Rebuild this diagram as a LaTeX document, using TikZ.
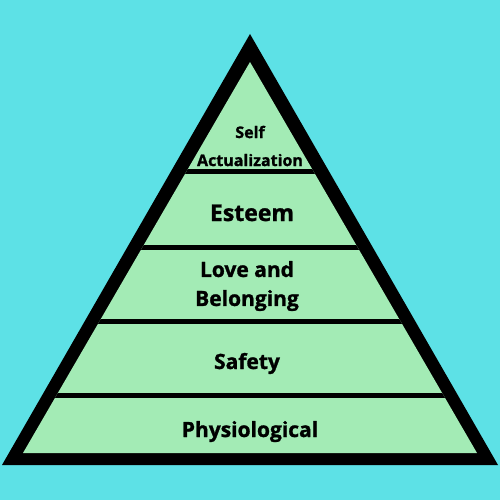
\documentclass[tikz,border=0pt]{standalone}
\usepackage{fontspec}
\setmainfont{Open Sans}[BoldFeatures={FakeBold=1.2}]
\usepackage{xcolor}
\definecolor{fundo}{HTML}{5DE1E6}
\definecolor{verde}{HTML}{A3EBB5}

\begin{document}
\begin{tikzpicture}[x=1pt, y=-1pt,
  rotulo/.style={font=\bfseries\fontsize{21}{29}\selectfont, align=center, inner sep=0pt},
  divisoria/.style={line width=5pt}]
  % fundo
  \fill[fundo] (0,0) rectangle (500,500);
  \useasboundingbox (0,0) rectangle (500,500);
  % piramide: borda preta e interior verde
  \fill[black] (250,34) -- (2,465) -- (498,465) -- cycle;
  \begin{scope}
    \clip (250,62) -- (23,453) -- (477,453) -- cycle;
    \fill[verde] (0,0) rectangle (500,500);
    \foreach \y in {171,247,321,395}
      \draw[divisoria] (0,\y) -- (500,\y);
  \end{scope}
  % niveis
  \node[rotulo, font=\bfseries\fontsize{16}{28}\selectfont] (self) at (250,146) {Self\\Actualization};
  \node[rotulo, font=\bfseries\fontsize{23}{29}\selectfont, anchor=base] (esteem) at (252,221) {Esteem};
  \node[rotulo] (love) at (247,286) {Love and\\Belonging};
  \node[rotulo, anchor=base] (safety) at (247,369) {Safety};
  \node[rotulo, anchor=base] (physio) at (250,437) {Physiological};
\end{tikzpicture}
\end{document}
